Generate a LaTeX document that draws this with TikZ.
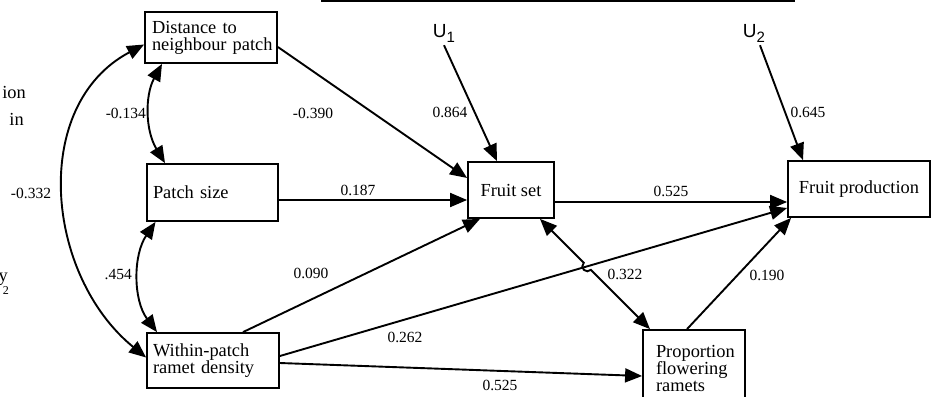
\documentclass[tikz,border=0pt]{standalone}
\usepackage{fontspec}
\setmainfont{Liberation Serif}
\newfontfamily\ufont{Liberation Sans}
\usetikzlibrary{arrows.meta,calc,intersections}
\begin{document}
\begin{tikzpicture}[x=1bp,y=-1bp,
  box/.style={draw,line width=1.8bp,rectangle,inner ysep=0pt,font=\fontsize{18.4bp}{17bp}\selectfont},
  lab/.style={inner sep=0pt,font=\fontsize{15.5bp}{16bp}\selectfont},
  frag/.style={inner sep=0pt,font=\fontsize{18.4bp}{17bp}\selectfont},
  ulab/.style={inner sep=0pt,font=\ufont\fontsize{19bp}{19bp}\selectfont},
  con/.style={line width=1.9bp,-{Triangle[length=17bp,width=14bp]}},
  dcon/.style={line width=1.9bp,{Triangle[length=17bp,width=14bp]}-{Triangle[length=17bp,width=14bp]}},
]
\useasboundingbox (0,0) rectangle (935,396);

% top rule
\draw[line width=2.5bp] (321,1) -- (795,1);

% fragments of page text at the left edge
\node[frag,anchor=base east] (f1) at (26,98) {ion};
\node[frag,anchor=base east] (f2) at (24,125) {in};
\node[frag,anchor=base east] (f3) at (8,281) {y};
\node[inner sep=0pt,anchor=base east,font=\fontsize{12bp}{12bp}\selectfont] (f4) at (9,294) {2};

% boxes
\node[box,minimum width=132bp,minimum height=51bp,text width=118bp,inner xsep=7bp,align=left] (dist) at (211,37.5) {\mbox{Distance to}\\\mbox{neighbour patch}};
\node[box,minimum width=131bp,minimum height=57bp,text width=119bp,inner xsep=6bp,align=left] (patch) at (212.5,192.5) {\mbox{Patch size}};
\node[box,minimum width=132bp,minimum height=55bp,text width=120bp,inner xsep=6bp,align=left] (within) at (213,360.5) {\mbox{Within-patch}\\\mbox{ramet density}};
\node[box,minimum width=86bp,minimum height=56bp,align=center] (fs) at (511,190) {Fruit set};
\node[box,minimum width=142bp,minimum height=56bp,align=center] (fp) at (859,189) {Fruit production};
\node[box,minimum width=102bp,minimum height=76bp,text width=76bp,inner xsep=13bp,align=left] (prop) at (694,368) {\mbox{Proportion}\\\mbox{flowering}\\\mbox{ramets}};

% error terms
\node[ulab] (u1) at (444,33) {U\raisebox{-5bp}{\fontsize{15bp}{15bp}\selectfont 1}};
\node[ulab] (u2) at (754,33) {U\raisebox{-5bp}{\fontsize{15bp}{15bp}\selectfont 2}};

% directed paths
\draw[con] ($(dist.east)+(0,9.5)$) -- ($(fs.west)+(0,-12)$);
\draw[con] ($(u1.south)+(0,3)$) -- ($(fs.north)+(-14,0)$);
\draw[con] ($(patch.east)+(0,7.5)$) -- ($(fs.west)+(0,10)$);
\draw[con] ($(within.north)+(30,0)$) -- ($(fs.south)+(-31,0)$);
\draw[con,name path=l262] ($(within.east)+(0,-4.5)$) -- ($(fp.west)+(0,19)$);
\draw[con] ($(within.east)+(0,2.5)$) -- ($(prop.west)+(0,8)$);
\draw[con] ($(fs.east)+(0,12)$) -- ($(fp.west)+(0,13)$);
\draw[con] ($(u2.south)+(6,3)$) -- ($(fp.north)+(-56,0)$);
\draw[con] ($(prop.north)+(-7,0)$) -- ($(fp.south west)+(4,0)$);

% correlation fruit set <-> proportion with a hop
\coordinate (c1) at ($(fs.south)+(29,0)$);
\coordinate (c2) at ($(prop.north)+(-44,0)$);
\path[name path=l322] (c1) -- (c2);
\path[name intersections={of=l262 and l322,by=X}];
\draw[dcon] (c1) -- ($(X)!5bp!(c1)$) arc[start angle=225,delta angle=-180,radius=5] -- (c2);

% correlations among exogenous variables
\draw[dcon] ($(dist.south)+(-49,0)$) .. controls (145,95) and (145,130) .. ($(patch.north)+(-47.5,0)$);
\draw[dcon] ($(patch.south)+(-57,0)$) .. controls (133,255) and (133,300) .. ($(within.north)+(-56,0)$);
\draw[dcon] ($(dist.west)+(0,7)$) .. controls (30,105) and (45,275) .. ($(within.west)+(0,-3)$);

% labels
\node[lab,anchor=east] (l1) at (146,113) {-0.134};
\node[lab,anchor=east] (l2) at (132,275) {.454};
\node[lab] (l3) at (31,193) {-0.332};
\node[lab] (l4) at (313,113) {-0.390};
\node[lab] (l5) at (450,112) {0.864};
\node[lab] (l6) at (358,190) {0.187};
\node[lab] (l7) at (311,273) {0.090};
\node[lab] (l8) at (405,337) {0.262};
\node[lab] (l9) at (500,385) {0.525};
\node[lab] (l10) at (671,191) {0.525};
\node[lab] (l11) at (808,112) {0.645};
\node[lab] (l12) at (625,274) {0.322};
\node[lab] (l13) at (767,275) {0.190};
\end{tikzpicture}
\end{document}
